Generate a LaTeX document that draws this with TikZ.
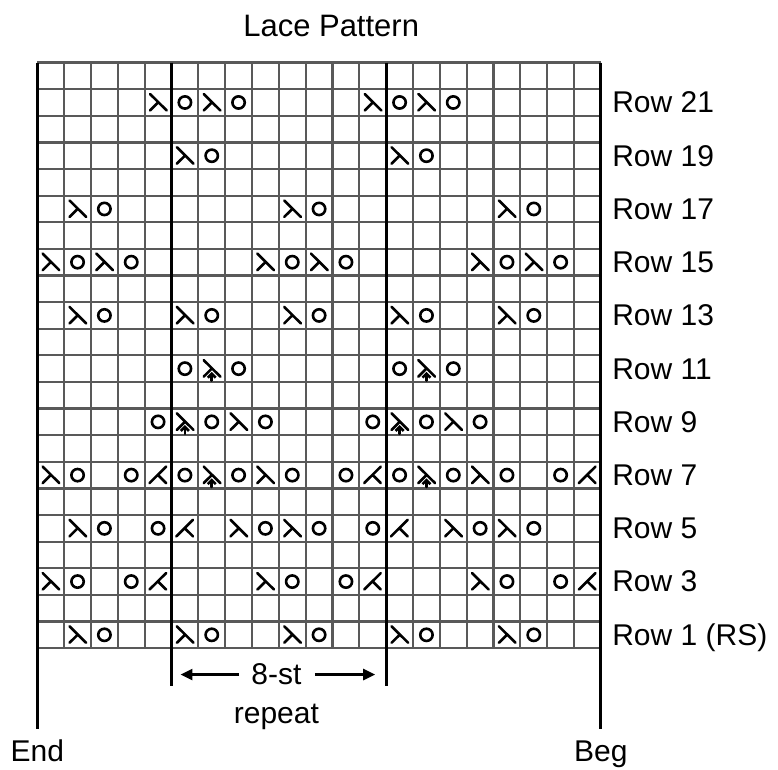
\documentclass[tikz,border=0pt]{standalone}
\usepackage{fontspec}
\setmainfont{Liberation Sans}
\usetikzlibrary{arrows.meta,positioning}

\begin{document}
\begin{tikzpicture}[
  x=13.42pt, y=13.31pt,
  gridline/.style={draw=black!65, line width=1.1pt},
  heavy/.style={draw=black, line width=1.5pt},
  sym/.style={line width=1.3pt, line cap=round},
  lbl/.style={font=\fontsize{15}{18}\selectfont, inner sep=0pt},
  arr/.style={-{Triangle[length=6pt,width=5.5pt]}, line width=1.3pt},
  yo/.pic={\draw[sym] (0,0) circle (0.23);},
  ssk/.pic={\draw[sym] (-0.3,0.32) -- (0.32,-0.3) (0.01,0.01) -- (-0.3,-0.3);},
  ktog/.pic={\draw[sym] (0.3,0.32) -- (-0.32,-0.3) (-0.01,0.01) -- (0.3,-0.3);},
  dbl/.pic={\draw[sym] (-0.3,0.32) -- (0.32,-0.3) (0.01,0.01) -- (-0.3,-0.3);
    \draw[sym, -{Straight Barb[length=2pt,width=4pt]}] (0,-0.45) -- (0,-0.12);}
]
\useasboundingbox (-1.39,-4.57) rectangle (27.6,24.35);

% chart grid
\foreach \i in {0,...,21} \draw[gridline] (\i,0) -- (\i,22);
\foreach \j in {0,...,22} \draw[gridline] (0,\j) -- (21,\j);

% edges and repeat lines
\coordinate (endfoot) at (0,-3.03);
\coordinate (begfoot) at (21,-3.03);
\coordinate (repl) at (5,-1.44);
\coordinate (repr) at (13,-1.44);
\draw[heavy] (0,22) -- (endfoot);
\draw[heavy] (21,22) -- (begfoot);
\draw[heavy] (5,22) -- (repl);
\draw[heavy] (13,22) -- (repr);

% symbols, row/columns
\foreach \r/\cs in {21/{6,8,14,16}, 19/{7,15}, 17/{3,11,19}, 15/{2,4,10,12,18,20},
    13/{3,7,11,15,19}, 11/{6,8,14,16}, 9/{5,7,9,13,15,17},
    7/{2,4,6,8,10,12,14,16,18,20}, 5/{3,5,9,11,13,17,19},
    3/{2,4,10,12,18,20}, 1/{3,7,11,15,19}}
  \foreach \c in \cs \pic at (\c-0.5,\r-0.5) {yo};
\foreach \r/\cs in {21/{5,7,13,15}, 19/{6,14}, 17/{2,10,18}, 15/{1,3,9,11,17,19},
    13/{2,6,10,14,18}, 9/{8,16}, 7/{1,9,17}, 5/{2,8,10,16,18},
    3/{1,9,17}, 1/{2,6,10,14,18}}
  \foreach \c in \cs \pic at (\c-0.5,\r-0.5) {ssk};
\foreach \r/\cs in {7/{5,13,21}, 5/{6,14}, 3/{5,13,21}}
  \foreach \c in \cs \pic at (\c-0.5,\r-0.5) {ktog};
\foreach \r/\cs in {11/{7,15}, 9/{6,14}, 7/{7,15}}
  \foreach \c in \cs \pic at (\c-0.5,\r-0.5) {dbl};

% labels
\node[lbl, font=\fontsize{15.5}{18}\selectfont, anchor=base] (title) at (10.95,22.96) {Lace Pattern};
\foreach \r in {3,5,...,21}
  \node[lbl, anchor=base west] (row\r) at (21.41,\r-0.89) {Row \r};
\node[lbl, anchor=base west] (row1) at (21.41,0.11) {Row 1 (RS)};

\node[lbl, anchor=base] (st) at (8.91,-1.38) {8-st};
\node[lbl, below=9pt of st] (rep) {repeat};
\draw[arr] ([xshift=-6pt]st.west) -- ([xshift=4.5pt]repl |- st.west);
\draw[arr] ([xshift=6.5pt]st.east) -- ([xshift=-5.5pt]repr |- st.east);

\node[lbl, anchor=base] (end) at (0,-4.27) {End};
\node[lbl, anchor=base] (beg) at (21,-4.27) {Beg};
\end{tikzpicture}
\end{document}
